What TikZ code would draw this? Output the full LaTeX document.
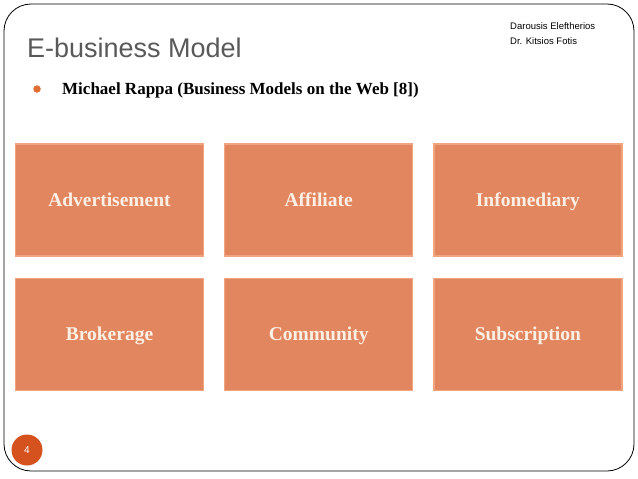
\documentclass[tikz,border=0pt]{standalone}
\usepackage{fontspec}
\setmainfont{Liberation Serif}
\setsansfont{Liberation Sans}
\definecolor{rappaFill}{RGB}{226,134,96}
\definecolor{rappaEdge}{RGB}{242,164,128}
\definecolor{rappaText}{RGB}{252,240,228}
\definecolor{titleGray}{RGB}{89,89,89}
\definecolor{slideDot}{RGB}{213,82,31}
\definecolor{bulletDot}{RGB}{224,110,50}
\usetikzlibrary{positioning}

\begin{document}
\begin{tikzpicture}[x=1pt, y=-1pt,
    model/.style={rectangle, draw=rappaEdge, fill=rappaFill, line width=1.2pt,
                  minimum width=188pt, minimum height=112pt, inner sep=0pt,
                  text height=15pt, text depth=3pt,
                  text=rappaText, font=\fontsize{19.5}{23}\selectfont\bfseries},
    node distance=20pt
  ]
  \useasboundingbox (0,0) rectangle (638,479);
  \draw[line width=0.8pt, rounded corners=27pt] (4,4) rectangle (634,471);

  % heading
  \node[anchor=base west, text=titleGray, inner sep=0pt,
        font=\sffamily\fontsize{27}{32}\selectfont] (title) at (27,57)
    {E-business Model};
  \node[anchor=base west, inner sep=0pt,
        font=\sffamily\fontsize{9.5}{11}\selectfont] (author1) at (510,30)
    {Darousis Eleftherios};
  \node[anchor=base west, inner sep=0pt,
        font=\sffamily\fontsize{9.5}{11}\selectfont] (author2) at (510,44)
    {Dr. Kitsios Fotis};
  \node[circle, fill=bulletDot, inner sep=0pt, minimum size=7.5pt] (dot) at (37,89) {};
  \node[anchor=base west, inner sep=0pt,
        font=\fontsize{17}{20}\selectfont\bfseries] (rappa) at (62,94)
    {Michael Rappa (Business Models on the Web [8])};

  % model boxes
  \node[model] (adv) at (109.5,200) {Advertisement};
  \node[model, right=of adv] (aff) {Affiliate};
  \node[model, right=of aff] (info) {Infomediary};
  \node[model, below=21pt of adv] (brok) {Brokerage};
  \node[model, right=of brok] (comm) {Community};
  \node[model, right=of comm] (subs) {Subscription};

  % slide number
  \node[circle, fill=slideDot, minimum size=31pt, inner sep=0pt, text=white,
        font=\sffamily\fontsize{10}{12}\selectfont] (pnum) at (27,450) {4};
\end{tikzpicture}
\end{document}
